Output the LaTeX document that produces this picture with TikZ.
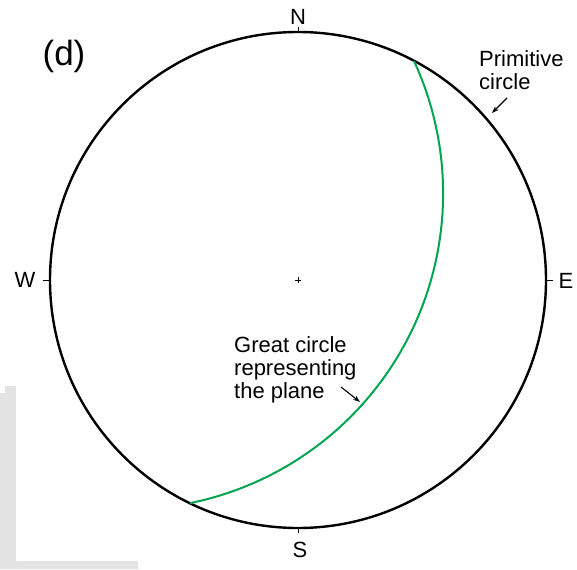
\documentclass[tikz,border=0pt]{standalone}
\usepackage{fontspec}
\setmainfont{Liberation Sans}
\usetikzlibrary{arrows.meta}
\definecolor{planegreen}{RGB}{0,165,80}
\begin{document}
\begin{tikzpicture}[x=1pt, y=-1pt,
        lbl/.style={font=\fontsize{22}{23}\selectfont, inner sep=0pt},
        tick/.style={line width=1pt},
        pointer/.style={line width=1.1pt, -{Stealth[length=7pt, width=5pt]}}]
    \useasboundingbox (0,0) rectangle (577,569);
    \fill[gray!22] (0,393) -- (5,393) -- (5,386) -- (16,386) -- (16,561) -- (138,561) -- (138,569) -- (0,569) -- cycle;
    \node[circle, draw, line width=2.4pt, minimum size=496pt, inner sep=0pt, outer sep=0pt] (prim) at (298,280) {};
    \draw[tick] (prim.north) -- ++(0,-5);
    \draw[tick] (prim.south) -- ++(0,5);
    \draw[tick] (prim.west) -- ++(-7,0);
    \draw[tick] (prim.east) -- ++(7,0);
    \draw[tick] (prim.center) +(-3,0) -- +(3,0) (prim.center) +(0,-3) -- +(0,3);
    \node[lbl] (north) at (298,17) {N};
    \node[lbl] (south) at (300,550) {S};
    \node[lbl] (west) at (25,280) {W};
    \node[lbl] (east) at (566,281) {E};
    \node[font=\fontsize{35}{37}\selectfont, inner sep=0pt] (panel) at (64,56) {(d)};
    \draw[planegreen, line width=2pt] (414,61) arc[start angle=-24.78, end angle=78.49, radius=316];
    \node[lbl, anchor=north west, align=left] (primlbl) at (479,50) {Primitive\\circle};
    \node[lbl, anchor=north west, align=left] (planelbl) at (234,336) {Great circle\\representing\\the plane};
    \coordinate (primtail) at (507,98);
    \coordinate (primpt) at (492,113);
    \coordinate (planetail) at (341,387);
    \coordinate (planept) at (360,402);
    \draw[pointer] (primtail) -- (primpt);
    \draw[pointer] (planetail) -- (planept);
\end{tikzpicture}
\end{document}
